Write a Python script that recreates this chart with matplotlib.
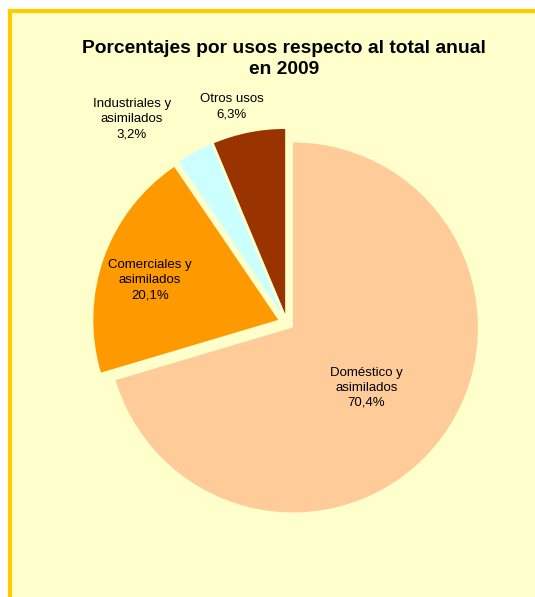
import matplotlib.pyplot as plt
from matplotlib.patches import Rectangle

# datos
usos = ["Doméstico y\nasimilados", "Comerciales y\nasimilados", "Industriales y\nasimilados", "Otros usos"]
porcentajes = [70.4, 20.1, 3.2, 6.3]
colores = ["#FFCC99", "#FF9900", "#CCFFFF", "#993300"]
separacion = [0.04, 0.05, 0.05, 0.05]
# posiciones de las etiquetas (en radios del pastel)
pos_etiquetas = [(0.43, -0.35), (-0.74, 0.23), (-0.84, 1.10), (-0.30, 1.17)]

plt.rcParams['font.family'] = ['Liberation Sans', 'DejaVu Sans']

fig = plt.figure(figsize=(5.35, 5.97), dpi=100, facecolor="white")
fig.patches.append(Rectangle((10 / 535, -0.1), 2, 1.1 - 11 / 597, transform=fig.transFigure,
                             facecolor="#FFFFCC", edgecolor="#FFCC00", linewidth=3, zorder=-10))

ax = fig.add_axes([28 / 535, 15 / 597, 518 / 535, 518 / 597])
ax.set_zorder(5)
ax.patch.set_visible(False)
ax.pie(porcentajes, colors=colores, explode=separacion, startangle=90, counterclock=False,
       wedgeprops=dict(linewidth=0))
ax.set_xlim(-1.4, 1.4)
ax.set_ylim(-1.4, 1.4)
ax.axis("off")

for nombre, p, (x, y) in zip(usos, porcentajes, pos_etiquetas):
    txt = nombre + "\n" + ("%.1f%%" % p).replace(".", ",")
    ax.text(x, y, txt, ha="center", va="center", fontsize=9.5, linespacing=1.35)

fig.text(284 / 535, 1 - 59 / 597, "Porcentajes por usos respecto al total anual\nen 2009",
         ha="center", va="center", fontsize=13.9, fontweight="bold", linespacing=1.25, zorder=10)

fig.savefig("out.png", dpi=100, facecolor=fig.get_facecolor())
